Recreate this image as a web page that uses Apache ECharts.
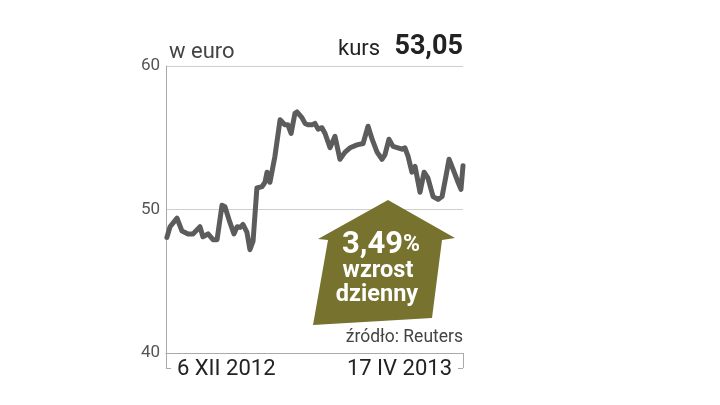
<!DOCTYPE html>
<html><head><meta charset="utf-8">
<script src="https://cdn.jsdelivr.net/npm/echarts@6/dist/echarts.min.js"></script>
<style>html,body{margin:0;padding:0;background:#fff}#c{width:720px;height:405px}</style>
</head><body><div id="c"></div>
<script>
// days since 6 XII 2012
const days = [0.4,1.8,4.9,7.1,9.8,12,15.1,16.4,18.7,20.9,22.7,24.9,26.2,28.4,30.2,31.6,32.9,34.2,36,37.3,38.7,40.4,42.7,44,44.9,46.2,48.4,50.7,52.8,54.2,55.6,57.3,58.2,60.4,61.8,63.1,64.9,66.2,67.6,69.3,70.7,72.9,75.1,77.3,79.6,81.8,84.9,87.6,88.4,89.8,91.6,93.8,96,97.3,99.1,100.9,103.1,104.9,106.2,107.6,109.3,110.7,112.9,114.7,116.4,118.7,120.9,122.7,124.4,125.8,127.6,129.8,131.1,132];
const kurs = [48.06,48.8,49.4,48.5,48.3,48.3,48.8,48.1,48.3,47.9,47.9,50.3,50.2,49.1,48.3,48.8,48.75,48.96,48.4,47.2,47.8,51.5,51.6,51.9,52.6,51.9,53.7,56.25,55.9,55.9,55.3,56.7,56.8,56.4,56.0,55.9,55.9,56.0,55.6,55.7,55.3,54.3,55.1,53.5,54.0,54.3,54.5,54.6,54.6,55.8,54.9,54.0,53.5,53.8,54.9,54.4,54.3,54.2,54.3,53.7,52.6,53.0,51.2,52.6,52.2,50.9,50.7,50.9,52.3,53.5,52.8,51.9,51.4,53.05];
const xLabels = {0:'6 XII 2012', 132:'17 IV 2013'};
const yTicks = [40, 50, 60];

const chart = echarts.init(document.getElementById('c'));
const font = 'Roboto, "DejaVu Sans", sans-serif';
chart.setOption({
  animation:false,
  grid:{left:166,right:257,top:66,bottom:52,containLabel:false},
  xAxis:{type:'value',min:0,max:132,interval:132,
    axisLine:{show:true,lineStyle:{color:'#aaa',width:1}},
    axisTick:{show:true,length:15,lineStyle:{color:'#aaa',width:1}},
    splitLine:{show:false},
    axisLabel:{formatter:v=>xLabels[v]||'',fontFamily:font,fontSize:22,color:'#222',margin:5,
      alignMinLabel:'left',alignMaxLabel:'right',showMinLabel:true,showMaxLabel:true,
      padding:[0,11,0,11]}
  },
  yAxis:{type:'value',min:yTicks[0],max:yTicks[yTicks.length-1],interval:10,
    axisLine:{show:true,lineStyle:{color:'#aaa',width:1}},
    axisTick:{show:false},
    splitLine:{show:true,lineStyle:{color:'#cfcfcf',width:1}},
    axisLabel:{fontFamily:font,fontSize:17,color:'#555',margin:6}
  },
  series:[{type:'line',data:days.map((d,i)=>[d,kurs[i]]),showSymbol:false,
    lineStyle:{color:'#5c5c5c',width:5,join:'round',cap:'round'},z:3}],
  graphic:[
    {type:'line',shape:{x1:166,y1:368.5,x2:171,y2:368.5},style:{stroke:'#aaa',lineWidth:1}},
    {type:'line',shape:{x1:458,y1:368.5,x2:463,y2:368.5},style:{stroke:'#aaa',lineWidth:1}},
    {type:'text',left:169,top:41,style:{text:'w euro',font:'22px '+font,fill:'#444'}},
    {type:'text',left:338,top:38,style:{text:'kurs',font:'22px '+font,fill:'#222'}},
    {type:'text',right:257,top:34,style:{text:'53,05',font:'bold 27px '+font,fill:'#222'}},
    {type:'polygon',z:10,shape:{points:[[388,200],[455,238],[442,240],[432,318],[313,325],[328,240],[318,239]]},
      style:{fill:'#77722e'}},
    {type:'text',z:11,x:381,y:245,style:{text:'{a|3,49}{b|%}',align:'center',verticalAlign:'middle',
      rich:{a:{font:'bold 31px '+font,fill:'#fff'},b:{font:'bold 23px '+font,fill:'#fff'}}}},
    {type:'text',z:11,x:378,y:271,style:{text:'wzrost',align:'center',verticalAlign:'middle',font:'bold 23.5px '+font,fill:'#fff'}},
    {type:'text',z:11,x:377,y:295,style:{text:'dzienny',align:'center',verticalAlign:'middle',font:'bold 23.5px '+font,fill:'#fff'}},
    {type:'text',z:11,right:257,top:329,style:{text:'źródło: Reuters',font:'17.5px '+font,fill:'#444'}}
  ]
});
</script></body></html>
